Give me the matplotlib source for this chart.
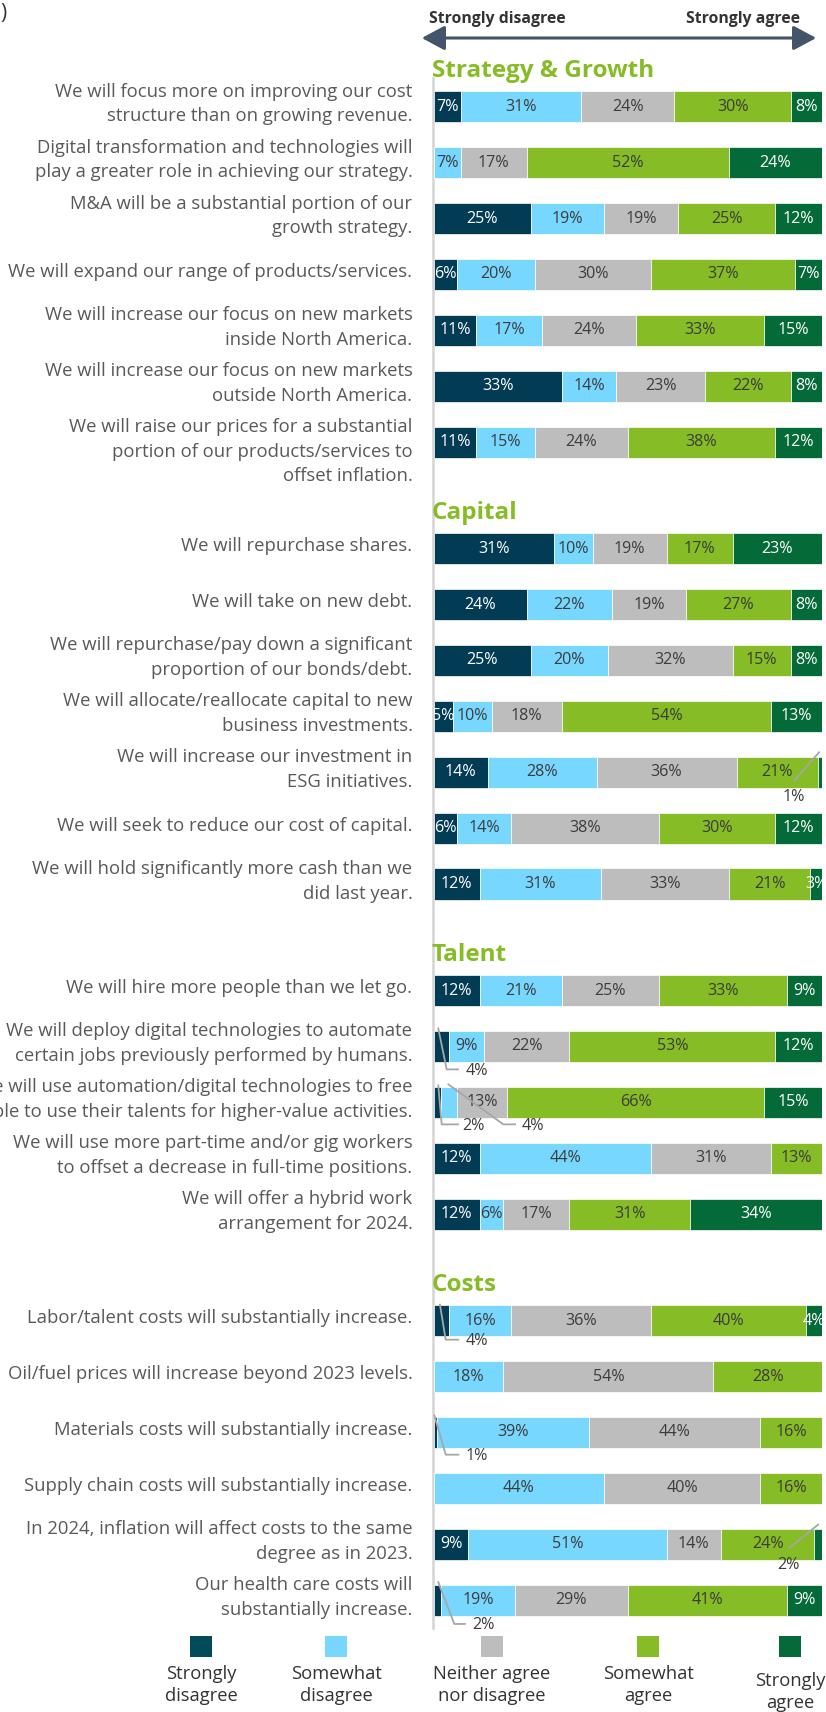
import matplotlib
matplotlib.use('Agg')
import matplotlib.pyplot as plt
from matplotlib.patches import Rectangle, FancyArrowPatch
import numpy as np

plt.rcParams['font.family'] = ['Open Sans', 'DejaVu Sans']

# ---------------- data ----------------
categories = ['Strongly\ndisagree', 'Somewhat\ndisagree', 'Neither agree\nnor disagree',
              'Somewhat\nagree', 'Strongly\nagree']

section_titles = ['Strategy & Growth', 'Capital', 'Talent', 'Costs']

strategy_labels = [
    'We will focus more on improving our cost\nstructure than on growing revenue.',
    'Digital transformation and technologies will\nplay a greater role in achieving our strategy.',
    'M&A will be a substantial portion of our\ngrowth strategy.',
    'We will expand our range of products/services.',
    'We will increase our focus on new markets\ninside North America.',
    'We will increase our focus on new markets\noutside North America.',
    'We will raise our prices for a substantial\nportion of our products/services to\noffset inflation.',
]
strategy_values = [
    [7, 31, 24, 30, 8],
    [0, 7, 17, 52, 24],
    [25, 19, 19, 25, 12],
    [6, 20, 30, 37, 7],
    [11, 17, 24, 33, 15],
    [33, 14, 23, 22, 8],
    [11, 15, 24, 38, 12],
]

capital_labels = [
    'We will repurchase shares.',
    'We will take on new debt.',
    'We will repurchase/pay down a significant\nproportion of our bonds/debt.',
    'We will allocate/reallocate capital to new\nbusiness investments.',
    'We will increase our investment in\nESG initiatives.',
    'We will seek to reduce our cost of capital.',
    'We will hold significantly more cash than we\ndid last year.',
]
capital_values = [
    [31, 10, 19, 17, 23],
    [24, 22, 19, 27, 8],
    [25, 20, 32, 15, 8],
    [5, 10, 18, 54, 13],
    [14, 28, 36, 21, 1],
    [6, 14, 38, 30, 12],
    [12, 31, 33, 21, 3],
]

talent_labels = [
    'We will hire more people than we let go.',
    'We will deploy digital technologies to automate\ncertain jobs previously performed by humans.',
    'We will use automation/digital technologies to free\npeople to use their talents for higher-value activities.',
    'We will use more part-time and/or gig workers\nto offset a decrease in full-time positions.',
    'We will offer a hybrid work\narrangement for 2024.',
]
talent_values = [
    [12, 21, 25, 33, 9],
    [4, 9, 22, 53, 12],
    [2, 4, 13, 66, 15],
    [12, 44, 31, 13, 0],
    [12, 6, 17, 31, 34],
]

costs_labels = [
    'Labor/talent costs will substantially increase.',
    'Oil/fuel prices will increase beyond 2023 levels.',
    'Materials costs will substantially increase.',
    'Supply chain costs will substantially increase.',
    'In 2024, inflation will affect costs to the same\ndegree as in 2023.',
    'Our health care costs will\nsubstantially increase.',
]
costs_values = [
    [4, 16, 36, 40, 4],
    [0, 18, 54, 28, 0],
    [1, 39, 44, 16, 0],
    [0, 44, 40, 16, 0],
    [9, 51, 14, 24, 2],
    [2, 19, 29, 41, 9],
]

# ---------------- styles ----------------
colors = ['#023b54', '#78d7ff', '#bdbdbd', '#86bc25', '#046a38']
text_colors = ['white', '#3c3c3c', '#3c3c3c', '#3c3c3c', 'white']
legend_colors = ['#024b5a', '#78d7ff', '#bdbdbd', '#86bc25', '#046a38']

# leader-line callouts: (section, row, segment) -> pixel offsets relative to
# (segment centre, bar centre): start, elbow, [horizontal end], label centre
callouts = {
    (1, 4, 4): [(-1, -20), (-26, 8.6), None, (-26.8, 24.6)],
    (2, 1, 0): [(-3, -18), (5.4, 22.9), (16.7, 22.9), (35.4, 24.3)],
    (2, 2, 0): [(0.9, -17), (4.3, 22), (20.6, 22), (35.9, 23.7)],
    (2, 2, 1): [(-0.7, -18), (54.3, 22), (66, 22), (84.3, 23.7)],
    (3, 0, 0): [(-1.3, -16), (4.4, 19), (17, 19), (35.4, 20.7)],
    (3, 2, 0): [(-1.1, -17), (10.3, 22.2), (22.9, 22.2), (41.3, 23.9)],
    (3, 4, 4): [(0, -19.6), (-29, 3.7), None, (-29.8, 20.4)],
    (3, 5, 0): [(0.9, -18), (16.9, 23.8), (27.6, 23.8), (45.9, 24.5)],
}

# ---------------- layout ----------------
W, H = 826, 1712
fig = plt.figure(figsize=(W / 100, H / 100), dpi=100)
AX_L, AX_R, AX_T, AX_B = 433.5, 822.0, 78.0, 1628.0
ax = fig.add_axes([AX_L / W, 1 - AX_B / H, (AX_R - AX_L) / W, (AX_B - AX_T) / H])
ROW_PX = 55.9
FIRST_ROW_PX = 106.8
SECTION_GAP = 1.905
PX_X = (AX_R - AX_L) / 100.0
BAR_H = 0.56
VAL_FS = 11.6
LABEL_FS = 13.35
LINE_PX = 24.5          # line pitch of the row labels
TOP_LINE_PX = -16.5     # first line of a wrapped label vs. bar centre
SINGLE_LINE_PX = -4.0   # single-line label vs. bar centre
BASELINE_PX = 6.5       # baseline below visual line centre


def u_of_px(py):
    return (py - FIRST_ROW_PX) / ROW_PX


ax.set_xlim(0, 100)
ax.set_ylim(u_of_px(AX_B), u_of_px(AX_T))
ax.axis('off')

sections = [(strategy_labels, strategy_values), (capital_labels, capital_values),
            (talent_labels, talent_values), (costs_labels, costs_values)]

pos = 0.0
for si, (labels, values) in enumerate(sections):
    vals = np.array(values, dtype=float)
    ys = pos + np.arange(len(labels))
    pos = ys[-1] + SECTION_GAP
    lefts = np.zeros(len(labels))
    for k in range(len(categories)):
        ax.barh(ys, vals[:, k], left=lefts, height=BAR_H, color=colors[k],
                edgecolor='white', linewidth=0.5, zorder=2)
        for r in range(len(labels)):
            v = vals[r, k]
            cx = lefts[r] + v / 2
            key = (si, r, k)
            if key in callouts:
                (sx, sy), (ex, ey), hend, (lx, ly) = callouts[key]
                xs = [cx + sx / PX_X, cx + ex / PX_X]
                yy = [ys[r] + sy / ROW_PX, ys[r] + ey / ROW_PX]
                if hend is not None:
                    xs.append(cx + hend[0] / PX_X)
                    yy.append(ys[r] + hend[1] / ROW_PX)
                ax.plot(xs, yy, color='#a6a6a6', lw=1.3, zorder=4, clip_on=False)
                ax.text(cx + lx / PX_X, ys[r] + ly / ROW_PX, f'{int(v)}%',
                        ha='center', va='center', fontsize=VAL_FS, color='#3c3c3c',
                        zorder=5, clip_on=False)
            elif v > 0:
                ax.text(cx, ys[r], f'{int(v)}%', ha='center', va='center',
                        fontsize=VAL_FS, color=text_colors[k], zorder=3, clip_on=True)
        lefts = lefts + vals[:, k]
    for r, lab in enumerate(labels):
        lines = lab.split('\n')
        first = SINGLE_LINE_PX if len(lines) == 1 else TOP_LINE_PX
        for j, line in enumerate(lines):
            off = first + j * LINE_PX + BASELINE_PX
            ax.text(-21 / PX_X, ys[r] + off / ROW_PX, line, ha='right', va='baseline',
                    fontsize=LABEL_FS, color='#595959', clip_on=False)
    ax.text(-1.5 / PX_X, ys[0] - 36 / ROW_PX, section_titles[si], ha='left',
            va='center', fontsize=17.5, fontweight='bold', color='#86bc25',
            clip_on=False)

# vertical axis line
ylo, yhi = ax.get_ylim()
ax.plot([-1 / PX_X, -1 / PX_X], [ylo, yhi], color='#d4d4d4', lw=1.8,
        zorder=1, clip_on=False)


def fx(px):
    return px / W


def fy(py):
    return 1 - py / H


# header
fig.text(fx(0), fy(14), ')', ha='left', va='center', fontsize=15, color='#333333')
fig.text(fx(429), fy(19), 'Strongly disagree', ha='left', va='center',
         fontsize=11.3, fontweight='bold', color='#333333')
fig.text(fx(800), fy(19), 'Strongly agree', ha='right', va='center',
         fontsize=11.3, fontweight='bold', color='#333333')
arrow = FancyArrowPatch((fx(419), fy(38)), (fx(819), fy(38)), transform=fig.transFigure,
                        arrowstyle='<|-|>,head_length=1.4,head_width=0.75',
                        mutation_scale=10, color='#44546a', lw=2.2)
fig.add_artist(arrow)

# legend
legend_x = [201, 336, 492, 648, 790]
legend_dy = [0, 0, 0, 0, 7]
for i, cat in enumerate(categories):
    fig.add_artist(Rectangle((fx(legend_x[i] - 11), fy(1657)), 22 / W, 21 / H,
                             transform=fig.transFigure, facecolor=legend_colors[i],
                             edgecolor='none'))
    fig.text(fx(legend_x[i]), fy(1685 + legend_dy[i]), cat, ha='center', va='center',
             fontsize=13.2, color='#333333', linespacing=1.31)

fig.savefig('out.png', dpi=100)
